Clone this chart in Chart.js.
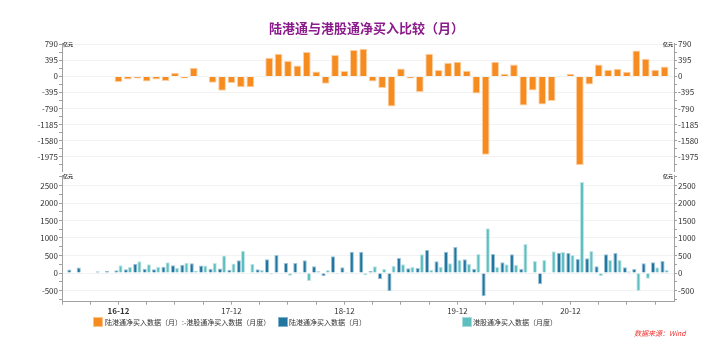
<!DOCTYPE html>
<html>
<head>
<meta charset="utf-8">
<script src="https://cdn.jsdelivr.net/npm/chart.js@4.4.1/dist/chart.umd.min.js"></script>
<style>
  html, body { margin:0; padding:0; background:#fff; }
  #wrap { position:relative; width:724px; height:354px; overflow:hidden; font-family:"Noto Sans CJK SC","Noto Sans",sans-serif; }
  .abs { position:absolute; white-space:nowrap; }
  #title { left:269px; top:20px; font-size:13px; line-height:16px; font-weight:bold; color:#8a1c8c; }
  .lg-box { position:absolute; width:10px; height:10px; top:317px; box-sizing:border-box; }
  .lg-txt { position:absolute; top:317px; font-size:7px; line-height:10px; color:#333; white-space:nowrap; }
  #src { left:634px; top:328px; font-size:7px; line-height:10px; color:#f0302c; font-style:italic; }
</style>
</head>
<body>
<div id="wrap">
  <div style="position:absolute;left:0;top:0;width:724px;height:180px;"><canvas id="top" width="724" height="180"></canvas></div>
  <div style="position:absolute;left:0;top:160px;width:724px;height:170px;"><canvas id="bot" width="724" height="170"></canvas></div>
  <div id="title" class="abs">陆港通与港股通净买入比较（月）</div>
  <div class="lg-box" style="left:93px;background:#f68b1f;border:1px solid #fbc48c;"></div>
  <div class="lg-txt" style="left:105px;">陆港通净买入数据（月）:-港股通净买入数据（月度）</div>
  <div class="lg-box" style="left:278px;background:#21759f;border:1px solid #7fb2cc;"></div>
  <div class="lg-txt" style="left:289px;">陆港通净买入数据（月）</div>
  <div class="lg-box" style="left:462px;background:#5fbec0;border:1px solid #a9dcdd;"></div>
  <div class="lg-txt" style="left:473px;">港股通净买入数据（月度）</div>
  <div id="src" class="abs">数据来源：Wind</div>
</div>
<script>
// ---- data ----
const MONTHS = [
  '16-06','16-07','16-08','16-09','16-10','16-11','16-12',
  '17-01','17-02','17-03','17-04','17-05','17-06','17-07','17-08','17-09','17-10','17-11','17-12',
  '18-01','18-02','18-03','18-04','18-05','18-06','18-07','18-08','18-09','18-10','18-11','18-12',
  '19-01','19-02','19-03','19-04','19-05','19-06','19-07','19-08','19-09','19-10','19-11','19-12',
  '20-01','20-02','20-03','20-04','20-05','20-06','20-07','20-08','20-09','20-10','20-11','20-12',
  '21-01','21-02','21-03','21-04','21-05','21-06','21-07','21-08','21-09','21-10','21-11'
];
// 陆港通净买入数据（月）
const LUGANGTONG = [
  null, 100, 160, -12, 50, 55, 80,
  105, 267, 124, 110, 176, 224, 233, 276, 215, 124, 128, 90,
  362, -15, 105, 390, 514, 286, 286, 362, 190, -95, 480, 165,
  610, 610, 57, -181, -524, 429, 133, 143, 657, 333, 610, 743,
  390, 124, -667, 543, 305, 533, 114, -19, -324, 20, 581, 571,
  400, 419, 190, 533, 571, 162, 114, 276, 305, 343, null
];
// 港股通净买入数据（月度）
const GANGGUTONG = [
  null, null, null, null, null, null, 225,
  171, 333, 250, 176, 305, 148, 290, 67, 215, 286, 500, 272,
  634, 267, 86, -43, -19, -80, 29, -229, 57, 86, -33, 29,
  -19, -67, 190, 114, 210, 248, 181, 533, 95, 181, 276, 371,
  262, 543, 1276, 171, 248, 238, 829, 343, 371, 620, 600, 514,
  2600, 629, -95, 371, 371, 48, -514, -162, 162, 95, null
];
// 陆港通净买入数据（月）:-港股通净买入数据（月度）
const DIFF = [
  null, null, null, null, null, null, -138,
  -74, -49, -123, -74, -114, 90, -49, 213, 8, -156, -352, -164,
  -270, -270, 12, 460, 558, 378, 271, 600, 123, -180, 525, 131,
  648, 681, -123, -287, -738, 197, -49, -385, 558, 156, 336, 361,
  140, -418, -1927, 361, 66, 295, -714, -345, -689, -607, -15, 66,
  -2182, -197, 295, 164, 189, 115, 640, 435, 164, 246, null
];
const TOP_TICKS = [790, 395, 0, -395, -790, -1185, -1580, -1975];
const BOT_TICKS = [2500, 2000, 1500, 1000, 500, 0, -500];
const UNIT = '亿元';

// ---- helpers ----
const FONT = '"Noto Sans CJK SC", "Noto Sans", sans-serif';
function withMinor(major, step, min, max) {
  const all = new Set(major);
  major.forEach(v => { [v - step / 2, v + step / 2].forEach(m => { if (m > min && m < max) all.add(m); }); });
  return Array.from(all).sort((a, b) => a - b);
}
function yAxis(pos, min, max, major, step, width) {
  const all = withMinor(major, step, min, max);
  return {
    position: pos, min: min, max: max,
    afterBuildTicks: s => { s.ticks = all.map(v => ({ value: v })); },
    afterFit: s => { s.width = width; },
    border: { display: true, color: '#a0a0a0', width: 1 },
    grid: {
      drawOnChartArea: pos === 'left',
      color: c => (c.tick && major.includes(c.tick.value)) ? '#f2f2f2' : 'rgba(0,0,0,0)',
      tickColor: '#a0a0a0', tickLength: 3, lineWidth: 1
    },
    ticks: {
      autoSkip: false, padding: 1, color: '#333',
      font: { size: 8, family: FONT },
      callback: v => major.includes(v) ? String(v) : ''
    }
  };
}
function xAxis(show) {
  const ax = {
    type: 'category', offset: false, display: show,
    afterBuildTicks: s => { s.ticks = s.ticks.filter(t => t.value % 3 === 0); },
    border: { display: true, color: '#a0a0a0' },
    grid: { offset: false, drawOnChartArea: false, tickLength: 3, tickColor: '#a0a0a0' },
    ticks: {
      autoSkip: false, maxRotation: 0, minRotation: 0, padding: 1, color: '#333',
      font: c => ({ size: 8, family: FONT, weight: (c.tick && c.tick.label === '16-12') ? 'bold' : 'normal' }),
      callback: function (v) { const l = this.getLabelForValue(v); return l.endsWith('-12') ? l : ''; }
    }
  };
  ax.afterFit = s => { s.height = show ? 28.3 : 0; };
  return ax;
}
const unitPlugin = {
  id: 'unit',
  afterDraw(chart) {
    const { ctx, chartArea } = chart;
    ctx.save();
    ctx.font = 'bold 5px ' + FONT;
    ctx.fillStyle = '#222';
    ctx.textBaseline = 'middle';
    ctx.textAlign = 'left';
    ctx.fillText(UNIT, chartArea.left + 1, chartArea.top + 1.5);
    ctx.textAlign = 'right';
    ctx.fillText(UNIT, chartArea.right - 1, chartArea.top + 1.5);
    ctx.restore();
  }
};
const common = {
  responsive: false, animation: false, devicePixelRatio: 1,
  plugins: { legend: { display: false }, tooltip: { enabled: false }, title: { display: false } }
};

new Chart(document.getElementById('top'), {
  type: 'bar',
  data: {
    labels: MONTHS,
    datasets: [{
      label: '陆港通净买入数据（月）:-港股通净买入数据（月度）',
      data: DIFF, backgroundColor: '#f68b1f', borderColor: '#fcd0a4', borderWidth: 1,
      barPercentage: 0.82, categoryPercentage: 1, yAxisID: 'y'
    }]
  },
  options: Object.assign({}, common, {
    layout: { padding: { top: 43, bottom: 9, left: 0, right: 0 } },
    scales: {
      x: xAxis(false),
      y: yAxis('left', -2328, 822, TOP_TICKS, 395, 62),
      y2: yAxis('right', -2328, 822, TOP_TICKS, 395, 50)
    }
  }),
  plugins: [unitPlugin]
});

new Chart(document.getElementById('bot'), {
  type: 'bar',
  data: {
    labels: MONTHS,
    datasets: [
      { label: '陆港通净买入数据（月）', data: LUGANGTONG, backgroundColor: '#21759f', borderColor: '#9cc3d7', borderWidth: 1,
        barPercentage: 1, categoryPercentage: 0.885, yAxisID: 'y' },
      { label: '港股通净买入数据（月度）', data: GANGGUTONG, backgroundColor: '#5fbec0', borderColor: '#c2e6e7', borderWidth: 1,
        barPercentage: 1, categoryPercentage: 0.885, yAxisID: 'y' }
    ]
  },
  options: Object.assign({}, common, {
    layout: { padding: { top: 15, bottom: 0, left: 0, right: 0 } },
    scales: {
      x: xAxis(true),
      y: yAxis('left', -820, 2800, BOT_TICKS, 500, 62),
      y2: yAxis('right', -820, 2800, BOT_TICKS, 500, 50)
    }
  }),
  plugins: [unitPlugin]
});
</script>
</body>
</html>
